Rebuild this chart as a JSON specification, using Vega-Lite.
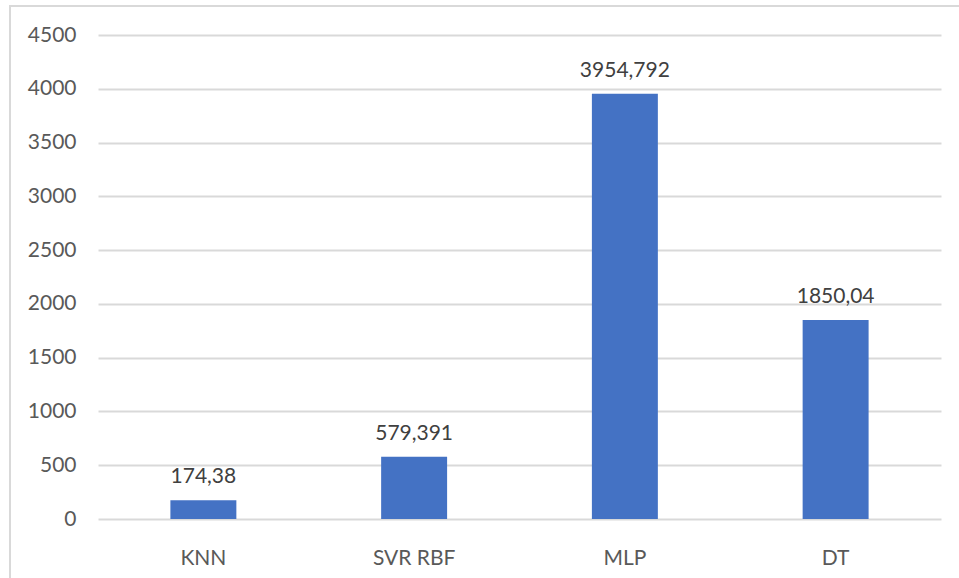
{
  "$schema": "https://vega.github.io/schema/vega-lite/v6.json",
  "autosize": {"type": "none"},
  "padding": {"left": 10, "top": 6, "right": 0, "bottom": 0},
  "width": 960,
  "height": 580,
  "background": "#ffffff",
  "data": {
    "values": [
      {"model": "KNN", "value": 174.38},
      {"model": "SVR RBF", "value": 579.391},
      {"model": "MLP", "value": 3954.792},
      {"model": "DT", "value": 1850.04}
    ]
  },
  "encoding": {
    "x": {
      "field": "model",
      "type": "nominal",
      "sort": null,
      "title": null,
      "scale": {"range": [88, 931], "paddingInner": 0.687, "paddingOuter": 0.3435},
      "axis": {
        "orient": "bottom",
        "offset": -61,
        "domain": false,
        "ticks": false,
        "tickSize": 0,
        "grid": false,
        "labelAngle": 0,
        "labelBaseline": "alphabetic",
        "labelPadding": 39,
        "labelFont": "Lato",
        "labelFontSize": 21,
        "labelColor": "#595959"
      }
    },
    "y": {
      "field": "value",
      "type": "quantitative",
      "title": null,
      "scale": {"domain": [0, 4500], "range": [513, 29], "nice": false, "zero": true},
      "axis": {
        "orient": "left",
        "offset": -88,
        "values": [0, 500, 1000, 1500, 2000, 2500, 3000, 3500, 4000, 4500],
        "format": "d",
        "domain": false,
        "ticks": false,
        "tickSize": 0,
        "grid": true,
        "gridColor": "#d9d9d9",
        "gridWidth": 2,
        "labelPadding": 22,
        "labelFont": "Lato",
        "labelFontSize": 21,
        "labelColor": "#595959"
      }
    }
  },
  "layer": [
    {"mark": {"type": "bar", "color": "#4472C4"}},
    {
      "mark": {
        "type": "text",
        "baseline": "alphabetic",
        "dy": -17,
        "font": "Lato",
        "fontSize": 21,
        "color": "#404040"
      },
      "encoding": {"text": {"field": "value", "type": "quantitative", "format": ".7~r"}}
    }
  ],
  "config": {
    "locale": {
      "number": {"decimal": ",", "thousands": ".", "grouping": [3], "currency": ["", " €"]}
    },
    "view": {"stroke": "#d9d9d9", "strokeWidth": 2}
  }
}
